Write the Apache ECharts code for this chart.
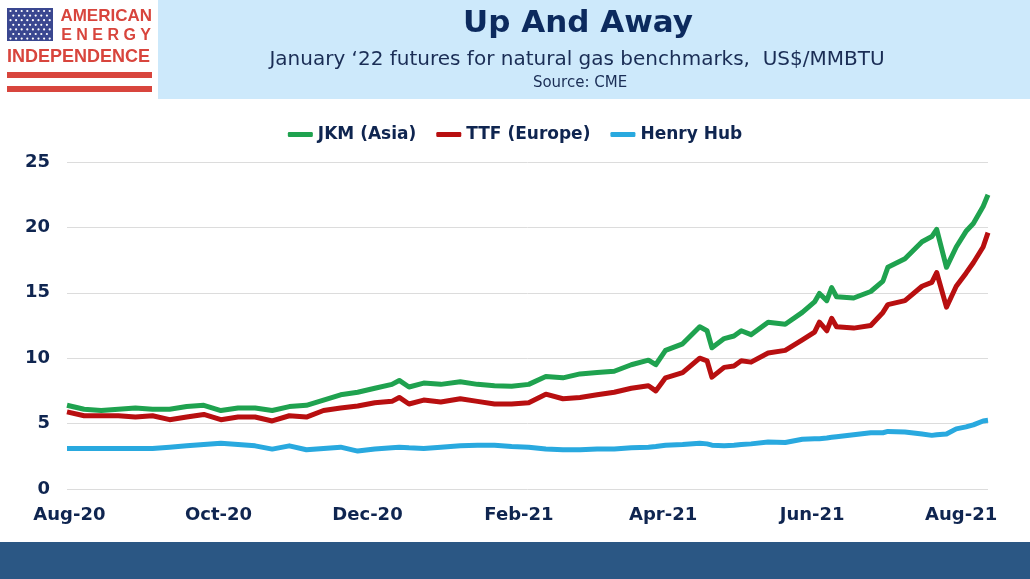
<!DOCTYPE html>
<html>
<head>
<meta charset="utf-8">
<script src="https://cdn.jsdelivr.net/npm/echarts@6/dist/echarts.min.js"></script>
<style>
html,body{margin:0;padding:0;background:#fff;}
#main{width:1030px;height:579px;}
</style>
</head>
<body>
<div id="main"></div>
<script>
// dates of the readings (roughly weekly, extra points at the spikes)
var dates = [
  '2020-07-31','2020-08-07','2020-08-14','2020-08-21','2020-08-28','2020-09-04','2020-09-11','2020-09-18',
  '2020-09-25','2020-10-02','2020-10-09','2020-10-16','2020-10-23','2020-10-30','2020-11-06','2020-11-13',
  '2020-11-20','2020-11-27','2020-12-04','2020-12-11','2020-12-14','2020-12-18','2020-12-24','2020-12-31',
  '2021-01-08','2021-01-15','2021-01-22','2021-01-29','2021-02-05','2021-02-12','2021-02-19','2021-02-26',
  '2021-03-05','2021-03-12','2021-03-19','2021-03-26','2021-03-29','2021-04-02','2021-04-09','2021-04-16',
  '2021-04-19','2021-04-21','2021-04-26','2021-04-30','2021-05-03','2021-05-07','2021-05-14','2021-05-21',
  '2021-05-28','2021-06-02','2021-06-04','2021-06-07','2021-06-09','2021-06-11','2021-06-18','2021-06-25',
  '2021-06-30','2021-07-02','2021-07-09','2021-07-16','2021-07-20','2021-07-22','2021-07-26','2021-07-30',
  '2021-08-03','2021-08-06','2021-08-10','2021-08-12'
];
var jkm = [
  6.4,6.1,6.0,6.1,6.2,6.1,6.1,6.3,
  6.4,6.0,6.2,6.2,6.0,6.3,6.4,6.8,
  7.2,7.4,7.7,8.0,8.3,7.8,8.1,8.0,
  8.2,8.0,7.9,7.85,8.0,8.6,8.5,8.8,
  8.9,9.0,9.5,9.85,9.5,10.6,11.1,12.4,
  12.1,10.8,11.5,11.7,12.1,11.8,12.75,12.6,
  13.5,14.3,14.95,14.4,15.4,14.7,14.6,15.1,
  15.9,16.95,17.6,18.9,19.3,19.85,16.95,18.5,
  19.7,20.3,21.6,22.5
];
var ttf = [
  5.9,5.6,5.6,5.6,5.5,5.6,5.3,5.5,
  5.7,5.3,5.5,5.5,5.2,5.6,5.5,6.0,
  6.2,6.35,6.6,6.7,7.0,6.5,6.8,6.65,
  6.9,6.7,6.5,6.5,6.6,7.25,6.9,7.0,
  7.2,7.4,7.7,7.9,7.5,8.5,8.9,10.0,
  9.8,8.55,9.3,9.4,9.8,9.7,10.4,10.6,
  11.4,12.0,12.75,12.1,13.05,12.4,12.3,12.5,
  13.5,14.1,14.4,15.5,15.8,16.55,13.9,15.5,
  16.5,17.3,18.5,19.6
];
var henryHub = [
  3.1,3.1,3.1,3.1,3.1,3.1,3.2,3.3,
  3.4,3.5,3.4,3.3,3.05,3.3,3.0,3.1,
  3.2,2.9,3.05,3.15,3.2,3.15,3.1,3.2,
  3.3,3.35,3.35,3.25,3.2,3.05,3.0,3.0,
  3.05,3.05,3.15,3.2,3.25,3.35,3.4,3.5,
  3.45,3.35,3.3,3.35,3.4,3.45,3.6,3.55,
  3.8,3.85,3.85,3.9,3.95,4.0,4.15,4.3,
  4.3,4.4,4.35,4.2,4.1,4.15,4.2,4.6,
  4.75,4.9,5.2,5.25
];
var xTicks = ['2020-08-01','2020-10-01','2020-12-01','2021-02-01','2021-04-01','2021-06-01','2021-08-01'];
var xTickLabels = ['Aug-20','Oct-20','Dec-20','Feb-21','Apr-21','Jun-21','Aug-21'];
var seriesNames = ['JKM (Asia)','TTF (Europe)','Henry Hub'];
var seriesColors = ['#1fa24f','#b80f10','#29a9df'];

var navy = '#0f2550';
var logoRed = '#d8453d';

function ts(s){
  var p = s.split('-');
  return Date.UTC(+p[0], +p[1]-1, +p[2]);
}
function pairs(vals){
  var out = [];
  for (var i = 0; i < dates.length; i++) out.push([ts(dates[i]), vals[i]]);
  return out;
}
var tickTs = xTicks.map(ts);

// logo stars
var stars = [];
for (var r = 0; r < 7; r++) {
  var cols = r % 2 === 0 ? 8 : 7;
  for (var c = 0; c < cols; c++) {
    stars.push({
      type:'circle', silent:true,
      shape:{cx: 10.5 + c*5.6 + (r % 2 ? 2.8 : 0), cy: 11 + r*4.6, r:1.1},
      style:{fill:'#ffffff'}
    });
  }
}

var myChart = echarts.init(document.getElementById('main'));
var option = {
  backgroundColor:'#ffffff',
  animation:false,
  graphic:[
    {type:'rect', silent:true, shape:{x:158,y:0,width:872,height:99}, style:{fill:'#cde9fb'}},
    {type:'rect', silent:true, shape:{x:0,y:542,width:1030,height:37}, style:{fill:'#2b5784'}},
    {type:'rect', silent:true, shape:{x:7,y:8,width:46,height:33}, style:{fill:'#3a4790'}},
    {type:'group', children:stars},
    {type:'text', silent:true, style:{text:'AMERICAN', x:152, y:16, textAlign:'right', textVerticalAlign:'middle',
      font:'bold 17px "Liberation Sans", Arial, sans-serif', fill:logoRed}},
    {type:'text', silent:true, style:{text:'E N E R G Y', x:151, y:36, textAlign:'right', textVerticalAlign:'middle',
      font:'bold 16px "Liberation Sans", Arial, sans-serif', fill:logoRed}},
    {type:'text', silent:true, style:{text:'INDEPENDENCE', x:7, y:57, textAlign:'left', textVerticalAlign:'middle',
      font:'bold 18px "Liberation Sans", Arial, sans-serif', fill:logoRed}},
    {type:'rect', silent:true, shape:{x:7,y:72,width:145,height:6}, style:{fill:logoRed}},
    {type:'rect', silent:true, shape:{x:7,y:86,width:145,height:6}, style:{fill:logoRed}},
    {type:'text', silent:true, style:{text:'Up And Away', x:578, y:24, textAlign:'center', textVerticalAlign:'middle',
      font:'bold 31px "DejaVu Sans", Verdana, sans-serif', fill:'#0c2a5e'}},
    {type:'text', silent:true, style:{text:'January \u201822 futures for natural gas benchmarks,  US$/MMBTU', x:577, y:60,
      textAlign:'center', textVerticalAlign:'middle', font:'20px "DejaVu Sans", Verdana, sans-serif', fill:'#1a2d55'}},
    {type:'text', silent:true, style:{text:'Source: CME', x:580, y:83, textAlign:'center', textVerticalAlign:'middle',
      font:'15px "DejaVu Sans", Verdana, sans-serif', fill:'#1a2d55'}}
  ],
  legend:{
    top:121, left:'center',
    itemWidth:25, itemHeight:5, itemGap:20,
    icon:'roundRect',
    data:seriesNames,
    textStyle:{fontFamily:'"DejaVu Sans", Verdana, sans-serif', fontWeight:'bold', fontSize:17, color:navy}
  },
  grid:{left:67, right:42, top:162, bottom:90},
  xAxis:{
    type:'value',
    min:ts('2020-07-31'), max:ts('2021-08-12'),
    axisLine:{show:false},
    axisTick:{show:false},
    splitLine:{show:false},
    axisLabel:{
      customValues: tickTs,
      formatter:function(v){
        var i = tickTs.indexOf(v);
        return i >= 0 ? xTickLabels[i] : '';
      },
      margin:17,
      fontFamily:'"DejaVu Sans", Verdana, sans-serif', fontWeight:'bold', fontSize:18, color:navy
    }
  },
  yAxis:{
    type:'value', min:0, max:25, interval:5,
    axisLine:{show:false},
    axisTick:{show:false},
    splitLine:{lineStyle:{color:'#dcdcdc', width:1}},
    axisLabel:{margin:17, fontFamily:'"DejaVu Sans", Verdana, sans-serif', fontWeight:'bold', fontSize:18, color:navy}
  },
  series:[
    {name:seriesNames[2], type:'line', data:pairs(henryHub), showSymbol:false, color:seriesColors[2],
      lineStyle:{width:5, color:seriesColors[2], join:'round'}},
    {name:seriesNames[1], type:'line', data:pairs(ttf), showSymbol:false, color:seriesColors[1],
      lineStyle:{width:5, color:seriesColors[1], join:'round'}},
    {name:seriesNames[0], type:'line', data:pairs(jkm), showSymbol:false, color:seriesColors[0],
      lineStyle:{width:5, color:seriesColors[0], join:'round'}}
  ]
};
myChart.setOption(option);
</script>
</body>
</html>
